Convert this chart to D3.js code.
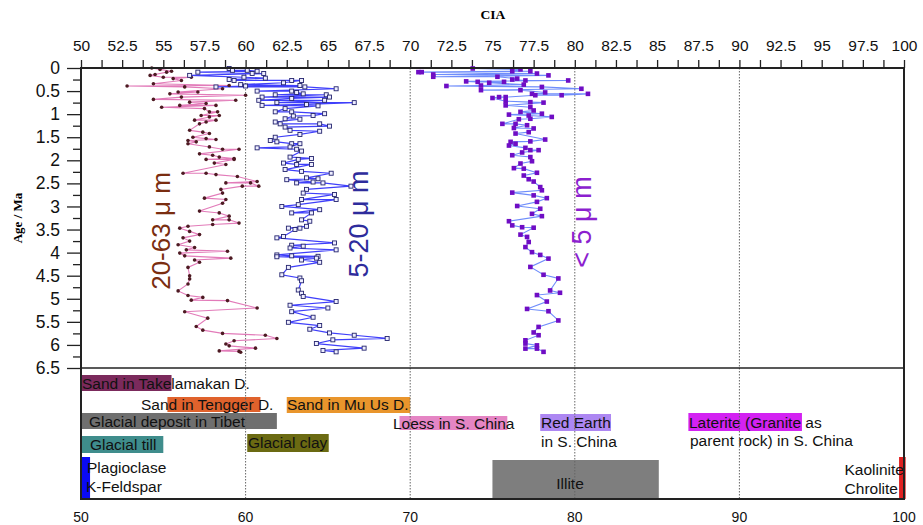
<!DOCTYPE html>
<html>
<head>
<meta charset="utf-8">
<script src="https://cdn.jsdelivr.net/npm/d3@7"></script>
<style>
  body { margin: 0; background: #fff; }
  text { font-family: "Liberation Sans", Arial, sans-serif; }
  .serif { font-family: "Liberation Serif", "Times New Roman", serif; font-weight: bold; }
</style>
</head>
<body>
<svg width="923" height="525"></svg>
<script>
// 20-63 um fraction
const coarseAge = [0.00,0.03,0.07,0.09,0.14,0.16,0.20,0.20,0.23,0.27,0.34,0.38,0.39,0.41,0.45,0.52,0.52,0.56,0.59,0.63,0.68,0.70,0.74,0.77,0.81,0.81,0.85,0.88,0.95,0.95,1.03,1.03,1.06,1.13,1.13,1.17,1.21,1.35,1.39,1.42,1.50,1.53,1.55,1.57,1.60,1.64,1.71,1.76,1.76,1.86,1.89,1.93,1.96,1.98,1.98,2.06,2.09,2.28,2.28,2.31,2.35,2.46,2.49,2.49,2.56,2.56,2.63,2.71,2.82,2.85,2.93,3.10,3.14,3.21,3.29,3.29,3.36,3.39,3.43,3.47,3.54,3.61,3.68,3.75,3.83,3.89,3.94,3.97,4.01,4.07,4.12,4.16,4.21,4.32,4.50,4.57,4.68,4.83,4.93,4.97,5.03,5.04,5.20,5.28,5.42,5.60,5.68,5.75,5.79,5.86,5.91,5.98,6.02,6.07,6.13,6.14,6.16];
const coarseCIA = [54.3,54.8,55.5,55.2,54.5,54.2,55.0,56.7,55.6,56.1,54.4,59.0,52.8,56.3,58.6,55.9,57.1,55.4,60.0,56.1,54.4,59.4,56.6,57.6,56.0,58.2,54.9,57.5,57.8,58.3,57.3,58.4,57.8,56.9,58.2,57.6,57.2,56.6,57.4,57.8,56.8,57.6,58.2,56.5,57.0,56.5,57.8,58.6,59.6,57.2,58.0,58.4,59.3,57.6,59.3,58.1,58.8,56.2,57.6,58.2,59.5,60.7,58.8,60.3,60.8,59.8,58.5,58.6,57.5,58.8,58.6,57.2,58.4,59.0,58.0,59.0,59.6,58.0,56.5,56.0,56.6,57.2,56.2,56.6,55.9,56.9,56.4,58.9,56.0,56.3,59.1,56.9,57.2,56.5,56.6,56.6,56.5,55.9,56.5,57.4,56.7,58.9,60.7,56.3,57.7,57.0,57.4,58.6,61.2,61.9,59.3,58.8,59.0,60.6,58.4,59.6,59.7];

// 5-20 um fraction
const mediumAge = [0.01,0.05,0.05,0.07,0.09,0.12,0.12,0.16,0.20,0.22,0.25,0.27,0.27,0.27,0.32,0.36,0.38,0.39,0.41,0.41,0.45,0.50,0.50,0.53,0.56,0.58,0.58,0.63,0.63,0.66,0.70,0.70,0.75,0.75,0.79,0.81,0.82,0.88,0.95,0.95,0.99,1.03,1.04,1.10,1.11,1.17,1.21,1.21,1.26,1.28,1.35,1.37,1.44,1.50,1.57,1.60,1.64,1.64,1.71,1.73,1.76,1.80,1.93,1.96,1.98,2.06,2.09,2.09,2.20,2.24,2.28,2.38,2.40,2.42,2.47,2.49,2.49,2.56,2.63,2.71,2.74,2.85,2.85,2.96,3.00,3.07,3.14,3.14,3.29,3.32,3.43,3.47,3.47,3.50,3.65,3.68,3.79,3.84,3.86,3.90,3.94,4.05,4.07,4.08,4.09,4.12,4.16,4.21,4.32,4.48,4.55,4.61,4.81,4.88,4.95,5.06,5.14,5.20,5.28,5.40,5.51,5.58,5.66,5.74,5.79,5.86,5.89,5.97,6.07,6.12,6.15];
const mediumCIA = [59.0,59.2,60.1,60.7,57.1,60.4,61.1,56.6,59.9,61.2,59.0,59.3,62.8,63.4,62.3,59.7,63.3,60.0,58.2,63.6,65.5,60.7,62.8,63.1,63.5,61.8,64.9,61.0,65.1,62.8,60.8,64.8,61.9,66.6,63.7,61.0,64.4,62.4,61.8,62.8,64.8,64.1,62.9,62.4,63.3,61.8,62.1,64.5,65.1,62.4,62.7,64.5,63.3,61.8,61.5,61.9,62.8,63.3,62.7,60.7,63.1,63.4,62.7,64.0,63.2,62.3,63.1,64.0,62.4,63.4,65.2,63.7,64.4,62.5,64.1,63.1,64.7,66.4,63.7,63.5,65.4,63.4,65.5,63.2,62.2,64.5,62.8,64.0,63.4,63.9,63.7,62.6,63.3,63.0,62.3,61.9,65.4,62.8,63.5,62.7,65.5,61.9,62.8,64.4,61.9,64.3,63.4,64.5,62.6,62.2,63.3,63.4,63.2,63.4,63.5,65.5,62.7,65.0,62.8,64.1,62.6,64.5,63.9,65.1,66.6,68.6,65.3,64.3,67.2,64.7,65.5];

// <5 um fraction
const fineAge = [0.01,0.03,0.07,0.07,0.09,0.09,0.12,0.14,0.16,0.19,0.19,0.23,0.25,0.27,0.27,0.29,0.30,0.30,0.32,0.36,0.38,0.39,0.41,0.45,0.48,0.48,0.53,0.56,0.56,0.59,0.59,0.63,0.63,0.65,0.72,0.74,0.75,0.81,0.85,0.92,0.95,0.99,1.01,1.03,1.06,1.10,1.11,1.21,1.21,1.24,1.30,1.31,1.39,1.42,1.55,1.59,1.60,1.64,1.68,1.73,1.78,1.78,1.83,1.89,1.93,2.02,2.07,2.17,2.18,2.27,2.33,2.41,2.46,2.58,2.65,2.70,2.76,2.82,2.90,2.99,3.05,3.16,3.21,3.32,3.41,3.45,3.46,3.61,3.66,3.77,3.88,3.99,4.05,4.13,4.31,4.48,4.56,4.82,4.87,4.92,5.06,5.22,5.27,5.47,5.61,5.73,5.79,5.90,5.97,6.01,6.08,6.08,6.15];
const fineCIA = [73.8,76.7,76.2,77.3,70.5,70.7,77.7,71.4,78.4,71.4,75.3,76.5,76.2,77.0,79.6,73.4,74.1,75.7,74.8,76.9,74.3,72.2,78.0,80.4,74.3,76.7,78.2,77.4,80.8,79.2,77.6,75.8,75.4,75.0,75.8,77.3,78.1,75.8,77.3,77.5,76.7,78.0,76.0,77.2,78.6,77.3,76.6,75.6,76.4,77.1,76.3,77.5,77.2,76.4,78.2,77.3,76.1,76.4,76.0,77.0,77.3,77.8,76.8,76.2,77.3,77.4,76.7,76.3,76.9,77.7,76.9,77.2,77.5,77.9,78.0,76.2,77.5,78.3,77.7,76.5,77.9,77.4,78.0,76.0,76.2,76.8,77.5,76.7,77.1,77.2,77.0,77.4,77.9,78.4,77.3,78.1,79.0,78.5,79.1,77.7,78.3,77.1,78.4,79.0,77.8,77.5,77.8,77.0,77.0,77.7,77.0,77.7,78.1];

// reference CIA ranges of materials (bottom panel)
const refNames = ['Sand in Takelamakan D.', 'Sand in Tengger D.', 'Sand in Mu Us D.', 'Glacial deposit in Tibet',
  'Loess in S. China', 'Glacial till', 'Glacial clay', 'Red Earth', 'Laterite (Granite', 'Plagioclase', 'Illite', 'Kaolinite'];
const refFrom = [50, 55.25, 62.5, 50, 69.35, 50, 60.1, 77.9, 86.9, 50, 75.0, 99.7];
const refTo   = [55.5, 60.9, 70.0, 61.9, 75.9, 55.0, 65.05, 82.2, 93.8, 50.55, 85.1, 100.1];

const ciaTicks = d3.range(50, 100.001, 1.25);
const ageTicks = d3.range(0, 6.501, 0.25);
const bottomTicks = [50, 60, 70, 80, 90, 100];

const svg = d3.select('svg');
const frame = {left: 81, right: 904, top: 68, mid: 368, bottom: 499};

const x = d3.scaleLinear().domain([50, 100]).range([frame.left, frame.right]);
const y = d3.scaleLinear().domain([0, 6.5]).range([frame.top, frame.mid]);

const isMajor = (d, step) => Math.abs(d / step - Math.round(d / step)) < 1e-6;

// titles
svg.append('text').attr('class', 'serif')
  .attr('x', 493).attr('y', 19).attr('text-anchor', 'middle')
  .attr('font-size', 13.5).text('CIA');
svg.append('text').attr('class', 'serif')
  .attr('transform', 'translate(22,218) rotate(-90)')
  .attr('text-anchor', 'middle').attr('font-size', 13).text('Age / Ma');

// top axis
const xAxis = d3.axisTop(x).tickValues(ciaTicks).tickSize(8).tickPadding(9)
  .tickFormat(d => isMajor(d, 2.5) ? d3.format('~g')(d) : '');
const gx = svg.append('g').attr('transform', `translate(0,${frame.top})`).call(xAxis);
gx.select('.domain').remove();
gx.selectAll('text').attr('font-size', 15.5).attr('fill', '#111').attr('font-family', '"Liberation Sans", Arial');
gx.selectAll('line').attr('stroke', '#222').attr('stroke-width', 1.3);

// left axis
const yAxis = d3.axisLeft(y).tickValues(ageTicks).tickSize(0).tickPadding(21)
  .tickFormat(d => isMajor(d, 0.5) ? d3.format('~g')(d) : '');
const gy = svg.append('g').attr('transform', `translate(${frame.left},0)`).call(yAxis);
gy.select('.domain').remove();
gy.selectAll('.tick line')
  .attr('x2', d => isMajor(d, 0.5) ? -14 : -8)
  .attr('stroke', '#222').attr('stroke-width', 1.3);
gy.selectAll('text').attr('font-size', 17.5).attr('fill', '#111').attr('font-family', '"Liberation Sans", Arial');

// bottom labels
svg.append('g').selectAll('text').data(bottomTicks).enter().append('text')
  .attr('x', d => x(d)).attr('y', 522).attr('text-anchor', 'middle')
  .attr('font-size', 14).attr('fill', '#111').text(d => d);

// reference bands
const bandStyle = {
  'Sand in Takelamakan D.': {y0: 375, y1: 391, fill: '#7b2a5c'},
  'Sand in Tengger D.': {y0: 397, y1: 412, fill: '#e0622c'},
  'Sand in Mu Us D.': {y0: 397, y1: 413, fill: '#e9952c'},
  'Glacial deposit in Tibet': {y0: 413, y1: 429, fill: '#6f6f6f'},
  'Loess in S. China': {y0: 416, y1: 430, fill: '#e585c4'},
  'Glacial till': {y0: 436, y1: 453, fill: '#3f8d8c'},
  'Glacial clay': {y0: 434, y1: 452, fill: '#6b6a12'},
  'Red Earth': {y0: 414, y1: 431, fill: '#ad87f2'},
  'Laterite (Granite': {y0: 413, y1: 431, fill: '#d322f2'},
  'Plagioclase': {y0: 457, y1: 499, fill: '#0a0af5'},
  'Illite': {y0: 460, y1: 498, fill: '#858585'},
  'Kaolinite': {y0: 457, y1: 499, fill: '#e02020'}
};
const refs = refNames.map((n, i) => ({name: n, from: refFrom[i], to: refTo[i]}));
svg.append('g').selectAll('rect').data(refs).enter().append('rect')
  .attr('x', d => x(d.from)).attr('width', d => x(d.to) - x(d.from))
  .attr('y', d => bandStyle[d.name].y0)
  .attr('height', d => bandStyle[d.name].y1 - bandStyle[d.name].y0)
  .attr('fill', d => bandStyle[d.name].fill);

// illite hatching
const illite = refs.find(d => d.name === 'Illite');
svg.append('g').selectAll('line').data(d3.range(0, 19))
  .enter().append('line')
  .attr('x1', x(illite.from)).attr('x2', x(illite.to))
  .attr('y1', d => 461 + d * 2).attr('y2', d => 461 + d * 2)
  .attr('stroke', '#6a6a6a').attr('stroke-width', 0.5);

// band texts
const bandText = [
  ['Sand in Takelamakan D.', 82, 389, 'start'],
  ['Sand in Tengger D.', 141, 410, 'start'],
  ['Sand in Mu Us D.', 287, 410, 'start'],
  ['Glacial deposit in Tibet', 89, 427, 'start'],
  ['Loess in S. China', 393, 429, 'start'],
  ['Glacial till', 90, 450, 'start'],
  ['Glacial clay', 248, 448, 'start'],
  ['Red Earth', 541, 428, 'start'],
  ['in S. China', 541, 447, 'start'],
  ['Laterite (Granite as', 689, 428, 'start'],
  ['parent rock) in S. China', 690, 446, 'start'],
  ['Plagioclase', 87, 473, 'start'],
  ['K-Feldspar', 86, 492, 'start'],
  ['Illite', 570, 489, 'middle'],
  ['Kaolinite', 904, 475, 'end'],
  ['Chrolite', 898, 494, 'end']
];
svg.append('g').selectAll('text').data(bandText).enter().append('text')
  .attr('x', d => d[1]).attr('y', d => d[2]).attr('text-anchor', d => d[3])
  .attr('font-size', 15.5).attr('fill', '#111').text(d => d[0]);

// dotted grid
svg.append('g').selectAll('line').data([60, 70, 80, 90]).enter().append('line')
  .attr('x1', d => x(d)).attr('x2', d => x(d))
  .attr('y1', frame.top).attr('y2', frame.bottom)
  .attr('stroke', '#666').attr('stroke-width', 1).attr('stroke-dasharray', '1.5,1.5');

// series
const line = d3.line().x(d => x(d.v)).y(d => y(d.a));
const zip = (a, v) => a.map((ag, i) => ({a: ag, v: v[i]}));
const coarse = zip(coarseAge, coarseCIA);
const medium = zip(mediumAge, mediumCIA);
const fine = zip(fineAge, fineCIA);

const plot = svg.append('g');
plot.append('path').datum(coarse).attr('d', line)
  .attr('fill', 'none').attr('stroke', '#e27bb9').attr('stroke-width', 1.1);
plot.append('path').datum(medium).attr('d', line)
  .attr('fill', 'none').attr('stroke', '#3f3ffa').attr('stroke-width', 1.2);
plot.append('path').datum(fine).attr('d', line)
  .attr('fill', 'none').attr('stroke', '#6f8dfb').attr('stroke-width', 1.1);

plot.append('g').selectAll('circle').data(coarse).enter().append('circle')
  .attr('cx', d => x(d.v)).attr('cy', d => y(d.a)).attr('r', 1.8)
  .attr('fill', '#4d1a22');
plot.append('g').selectAll('rect').data(medium).enter().append('rect')
  .attr('x', d => x(d.v) - 2).attr('y', d => y(d.a) - 2)
  .attr('width', 4).attr('height', 4)
  .attr('fill', '#eeeeff').attr('stroke', '#24246e').attr('stroke-width', 0.9);
plot.append('g').selectAll('rect').data(fine).enter().append('rect')
  .attr('x', d => x(d.v) - 2.3).attr('y', d => y(d.a) - 2.3)
  .attr('width', 4.6).attr('height', 4.6).attr('fill', '#6f0dc4');

// size labels
const sizeLabels = [
  ['20-63 \u03bc m', 170, 231, '#7a2d10', 26],
  ['5-20 \u03bc m', 368, 224, '#2e2c9c', 27],
  ['< 5 \u03bc m', 591, 222, '#8c1fcf', 27]
];
svg.append('g').selectAll('text').data(sizeLabels).enter().append('text')
  .attr('transform', d => `translate(${d[1]},${d[2]}) rotate(-90)`)
  .attr('text-anchor', 'middle').attr('font-size', d => d[4]).attr('fill', d => d[3])
  .text(d => d[0]);

// frames
svg.append('rect').attr('x', frame.left).attr('y', frame.top)
  .attr('width', frame.right - frame.left).attr('height', frame.bottom - frame.top)
  .attr('fill', 'none').attr('stroke', '#222').attr('stroke-width', 2);
svg.append('line').attr('x1', frame.left).attr('x2', frame.right)
  .attr('y1', frame.mid).attr('y2', frame.mid)
  .attr('stroke', '#222').attr('stroke-width', 1.5);
</script>
</body>
</html>
